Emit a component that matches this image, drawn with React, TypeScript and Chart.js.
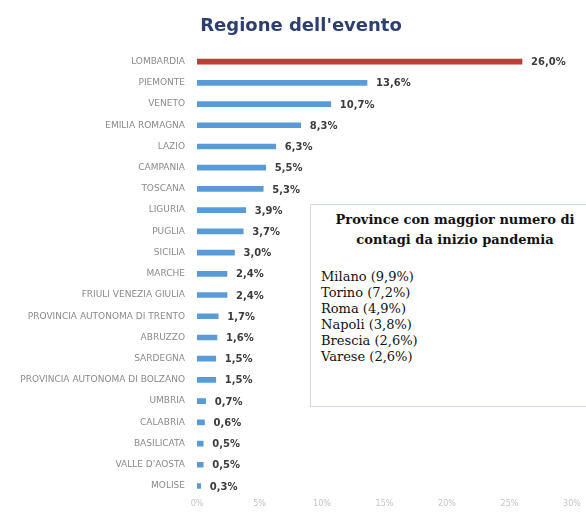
import React, { useEffect, useRef } from "react";
import { Chart, registerables } from "chart.js";

Chart.register(...registerables);

const chartTitle = "Regione dell'evento";

const regions = [
  "LOMBARDIA",
  "PIEMONTE",
  "VENETO",
  "EMILIA ROMAGNA",
  "LAZIO",
  "CAMPANIA",
  "TOSCANA",
  "LIGURIA",
  "PUGLIA",
  "SICILIA",
  "MARCHE",
  "FRIULI VENEZIA GIULIA",
  "PROVINCIA AUTONOMA DI TRENTO",
  "ABRUZZO",
  "SARDEGNA",
  "PROVINCIA AUTONOMA DI BOLZANO",
  "UMBRIA",
  "CALABRIA",
  "BASILICATA",
  "VALLE D'AOSTA",
  "MOLISE",
];

const shares = [26.0, 13.6, 10.7, 8.3, 6.3, 5.5, 5.3, 3.9, 3.7, 3.0, 2.4, 2.4, 1.7, 1.6, 1.5, 1.5, 0.7, 0.6, 0.5, 0.5, 0.3];

const highlighted = ["LOMBARDIA"];

const boxTitle = ["Province con maggior numero di", "contagi da inizio pandemia"];
const provinces = ["Milano", "Torino", "Roma", "Napoli", "Brescia", "Varese"];
const provinceShares = [9.9, 7.2, 4.9, 3.8, 2.6, 2.6];

const fmt = (v: number) => v.toFixed(1).replace(".", ",") + "%";

const valueLabels = {
  id: "valueLabels",
  afterDatasetsDraw(chart: any) {
    const ctx = chart.ctx;
    const meta = chart.getDatasetMeta(0);
    ctx.save();
    ctx.font = "bold 10px 'DejaVu Sans'";
    ctx.fillStyle = "#3c3c3c";
    ctx.textBaseline = "middle";
    ctx.textAlign = "left";
    meta.data.forEach((bar: any, i: number) => {
      ctx.fillText(fmt(shares[i]), bar.x + 9, bar.y + 1);
    });
    ctx.restore();
  },
};

const titlePlugin = {
  id: "offsetTitle",
  afterDraw(chart: any) {
    const ctx = chart.ctx;
    ctx.save();
    ctx.font = "bold 18px 'DejaVu Sans'";
    ctx.fillStyle = "#2d3f70";
    ctx.textAlign = "center";
    ctx.textBaseline = "middle";
    ctx.fillText(chartTitle, 301, 26);
    ctx.restore();
  },
};

export default function App() {
  const ref = useRef<HTMLCanvasElement>(null);

  useEffect(() => {
    if (!ref.current) return;
    const chart = new Chart(ref.current, {
      type: "bar",
      data: {
        labels: regions,
        datasets: [
          {
            data: shares,
            backgroundColor: regions.map((r) => (highlighted.includes(r) ? "#c43a34" : "#5b9bd5")),
            barThickness: 5,
            borderWidth: 0,
          },
        ],
      },
      options: {
        indexAxis: "y",
        animation: false,
        responsive: false,
        maintainAspectRatio: false,
        layout: { padding: { left: 0, right: 14, top: 51, bottom: -4 } },
        plugins: {
          legend: { display: false },
          tooltip: { enabled: false },
          title: { display: false },
        },
        scales: {
          x: {
            min: 0,
            max: 30,
            ticks: {
              stepSize: 5,
              color: "#c4c4c4",
              font: { family: "'DejaVu Sans'", size: 8 },
              callback: (v: any) => v + "%",
              padding: 3,
            },
            grid: { display: false, drawTicks: false },
            border: { display: false },
          },
          y: {
            ticks: {
              color: "#8a8a8a",
              font: { family: "'DejaVu Sans'", size: 9 },
              padding: 12,
              autoSkip: false,
            },
            grid: { display: false, drawTicks: false },
            border: { display: false },
            afterFit: (s: any) => {
              s.width = 197;
            },
          },
        },
      },
      plugins: [valueLabels, titlePlugin],
    });
    return () => chart.destroy();
  }, []);

  return (
    <div style={{ position: "fixed", left: 0, top: 0, width: 586, height: 514, overflow: "hidden", background: "#fff" }}>
      <canvas ref={ref} width={586} height={514} style={{ position: "absolute", left: 0, top: 0 }} />
      <div
        style={{
          position: "absolute",
          left: 310,
          top: 204,
          width: 290,
          height: 203,
          boxSizing: "border-box",
          border: "1px solid #d6dce6",
          background: "#fff",
          fontFamily: "'DejaVu Serif', serif",
          color: "#111",
          padding: "5px 0 0 10px",
        }}
      >
        <div style={{ fontWeight: "bold", fontSize: 13, lineHeight: "20px", textAlign: "center", paddingRight: 10 }}>
          {boxTitle.map((t, i) => (
            <div key={i} style={{ whiteSpace: "nowrap" }}>{t}</div>
          ))}
        </div>
        <div style={{ marginTop: 19, fontSize: 13, lineHeight: "16px" }}>
          {provinces.map((p, i) => (
            <div key={p}>{`${p} (${fmt(provinceShares[i])})`}</div>
          ))}
        </div>
      </div>
    </div>
  );
}
